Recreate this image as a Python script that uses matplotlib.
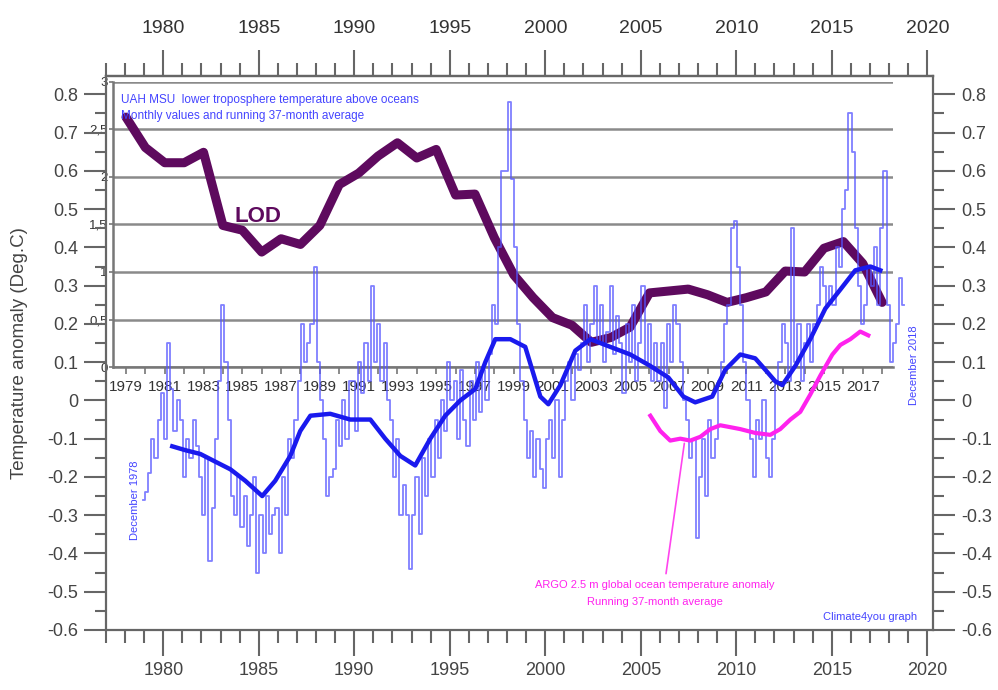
import numpy as np
import matplotlib
matplotlib.use('Agg')
import matplotlib.pyplot as plt
from matplotlib.ticker import MultipleLocator, FuncFormatter, FixedLocator

# UAH MSU ocean, values every 2 months from Dec 1978
uah_start = 1978.95
uah_step = 1 / 6
uah_values = [
    -0.26, -0.24, -0.19, -0.10, -0.15, -0.05,   # 1979
    0.02, -0.10, 0.15, 0.03, -0.08, 0.00,       # 1980
    -0.05, -0.20, -0.10, -0.15, -0.05, -0.12,   # 1981
    -0.20, -0.30, -0.15, -0.42, -0.28, -0.10,   # 1982
    0.05, 0.25, 0.10, -0.05, -0.25, -0.30,      # 1983
    -0.20, -0.33, -0.25, -0.38, -0.30, -0.20,   # 1984
    -0.45, -0.30, -0.40, -0.25, -0.35, -0.30,   # 1985
    -0.28, -0.40, -0.20, -0.30, -0.10, -0.15,   # 1986
    -0.05, 0.05, 0.20, 0.10, 0.15, 0.20,        # 1987
    0.35, 0.10, 0.00, -0.10, -0.25, -0.20,      # 1988
    -0.18, -0.05, -0.12, 0.00, -0.10, 0.05,     # 1989
    0.05, -0.08, 0.10, 0.02, 0.15, 0.05,        # 1990
    0.30, 0.10, 0.20, 0.05, 0.15, 0.00,         # 1991
    -0.05, -0.20, -0.10, -0.30, -0.22, -0.30,   # 1992
    -0.44, -0.30, -0.20, -0.35, -0.15, -0.25,   # 1993
    -0.10, -0.20, -0.05, -0.15, 0.00, -0.08,    # 1994
    0.10, 0.00, 0.05, -0.10, 0.08, -0.05,       # 1995
    -0.12, 0.05, -0.05, 0.10, -0.03, 0.08,      # 1996
    0.00, 0.12, 0.25, 0.20, 0.40, 0.60,         # 1997
    0.60, 0.78, 0.58, 0.40, 0.20, 0.05,         # 1998
    -0.05, -0.15, -0.08, -0.20, -0.10, -0.18,   # 1999
    -0.23, -0.10, -0.05, -0.15, 0.00, -0.20,    # 2000
    -0.05, 0.05, 0.10, 0.00, 0.12, 0.08,        # 2001
    0.15, 0.25, 0.10, 0.20, 0.30, 0.15,         # 2002
    0.25, 0.10, 0.18, 0.30, 0.12, 0.22,         # 2003
    0.15, 0.02, 0.20, 0.10, 0.25, 0.05,         # 2004
    0.15, 0.30, 0.10, 0.20, 0.05, 0.15,         # 2005
    0.05, 0.15, -0.02, 0.20, 0.10, 0.25,        # 2006
    0.20, 0.10, 0.00, -0.05, -0.15, -0.10,      # 2007
    -0.36, -0.20, -0.10, -0.25, -0.05, -0.15,   # 2008
    -0.10, 0.05, 0.10, 0.20, 0.25, 0.45,        # 2009
    0.47, 0.35, 0.25, 0.10, 0.00, -0.10,        # 2010
    -0.20, -0.05, -0.10, 0.00, -0.15, -0.20,    # 2011
    -0.10, 0.05, 0.10, 0.20, 0.15, 0.05,        # 2012
    0.45, 0.10, 0.20, 0.05, 0.15, 0.20,         # 2013
    0.10, 0.20, 0.25, 0.35, 0.30, 0.25,         # 2014
    0.30, 0.25, 0.40, 0.35, 0.50, 0.55,         # 2015
    0.75, 0.65, 0.45, 0.30, 0.20, 0.25,         # 2016
    0.35, 0.30, 0.40, 0.25, 0.45, 0.60,         # 2017
    0.25, 0.10, 0.15, 0.20, 0.32, 0.25,         # 2018
]

# running 37-month average (thick blue)
avg_years = [1980.47, 1981.15, 1981.94, 1982.72, 1983.51, 1984.29, 1985.18, 1985.86,
             1986.65, 1987.17, 1987.70, 1988.74, 1989.79, 1990.84, 1991.62, 1992.41,
             1993.19, 1993.98, 1994.76, 1995.55, 1996.34, 1996.86, 1997.38, 1998.17,
             1998.95, 1999.74, 2000.16, 2000.79, 2001.57, 2002.36, 2003.40, 2004.45,
             2005.50, 2006.44, 2007.23, 2007.85, 2008.74, 2009.42, 2010.21, 2010.99,
             2011.52, 2012.04, 2012.41, 2013.09, 2013.87, 2014.66, 2015.45, 2016.23,
             2017.02, 2017.54]
avg_values = [-0.12, -0.13, -0.14, -0.16, -0.18, -0.21, -0.25, -0.21,
              -0.145, -0.08, -0.04, -0.035, -0.05, -0.05, -0.10, -0.145,
              -0.17, -0.10, -0.04, 0.00, 0.03, 0.10, 0.16, 0.16,
              0.14, 0.01, -0.01, 0.04, 0.13, 0.16, 0.14, 0.12,
              0.09, 0.06, 0.01, -0.005, 0.01, 0.08, 0.12, 0.11,
              0.08, 0.05, 0.04, 0.09, 0.16, 0.24, 0.29, 0.34,
              0.35, 0.34]

# ARGO 2.5 m, running 37-month average (magenta)
argo_years = [2005.50, 2006.02, 2006.54, 2007.07, 2007.59, 2008.12, 2008.64, 2009.16,
              2009.69, 2010.21, 2010.99, 2011.78, 2012.30, 2012.83, 2013.35, 2013.87,
              2014.40, 2015.03, 2015.45, 2015.97, 2016.49, 2016.91]
argo_values = [-0.04, -0.08, -0.105, -0.10, -0.105, -0.095, -0.075, -0.065,
               -0.07, -0.075, -0.085, -0.09, -0.075, -0.05, -0.03, 0.015,
               0.065, 0.12, 0.145, 0.16, 0.18, 0.17]

# LOD (length of day), inset scale 0-3
lod_years = list(range(1979, 2019))
lod_values = [2.63, 2.31, 2.15, 2.15, 2.26, 1.49, 1.44, 1.21, 1.35, 1.29,
              1.49, 1.92, 2.04, 2.22, 2.36, 2.20, 2.29, 1.81, 1.82, 1.36,
              0.97, 0.73, 0.52, 0.44, 0.26, 0.31, 0.42, 0.78, 0.80, 0.82,
              0.76, 0.68, 0.73, 0.79, 1.01, 1.00, 1.25, 1.32, 1.09, 0.68]

year_ticks = list(range(1980, 2021, 5))

gray = '#666666'
txt = '#444444'
sans = ['Liberation Sans', 'DejaVu Sans']
small = ['Liberation Sans Narrow', 'Liberation Sans', 'DejaVu Sans']

fig = plt.figure(figsize=(9.98, 6.9), dpi=100)

# inset with the LOD curve (drawn first, sits below)
ax_lod = fig.add_axes([0.1132, 0.4681, 0.7816, 0.4131])
ax_lod.patch.set_alpha(0)
ax_lod.set_xlim(1978.33, 2018.56)
ax_lod.set_ylim(0, 3)
for s in ['top', 'right']:
    ax_lod.spines[s].set_visible(False)
for s in ['left', 'bottom']:
    ax_lod.spines[s].set_color('#777777')
    ax_lod.spines[s].set_linewidth(1.8)
ax_lod.yaxis.set_major_locator(MultipleLocator(0.5))
ax_lod.yaxis.set_major_formatter(FuncFormatter(lambda v, p: f'{v:g}'.replace('.', ',')))
ax_lod.xaxis.set_major_locator(FixedLocator(list(range(1979, 2018, 2))))
ax_lod.xaxis.set_minor_locator(MultipleLocator(1))
ax_lod.tick_params(axis='x', which='both', direction='out', length=5, width=1.2,
                   color='#777777', labelsize=11, labelcolor='#333333', pad=4)
ax_lod.tick_params(axis='y', direction='out', length=3, width=1.2, color='#777777',
                   labelsize=9.5, labelcolor='#333333', pad=1)
for lbl in ax_lod.get_xticklabels() + ax_lod.get_yticklabels():
    lbl.set_family(sans)
ax_lod.grid(axis='y', color='#8a8a8a', linewidth=1.8)
ax_lod.set_axisbelow(True)
ax_lod.plot(lod_years, lod_values, color='#5e0a5e', linewidth=6.5, solid_joinstyle='round',
            solid_capstyle='round', zorder=3)
ax_lod.text(1984.6, 1.53, 'LOD', color='#5e0a5e', fontsize=16, fontweight='bold',
            family=sans)

# main temperature axes
ax = fig.add_axes([0.1062, 0.0870, 0.8287, 0.8029])
ax.patch.set_alpha(0)
ax.set_xlim(1977.0, 2020.3)
ax.set_ylim(-0.6, 0.848)

uah_years = uah_start + uah_step * np.arange(len(uah_values))
ax.plot(uah_years, uah_values, color='#5555ff', alpha=0.75, linewidth=1.3,
        drawstyle='steps-mid')
ax.plot(avg_years, avg_values, color='#1a1aee', linewidth=3.2)
ax.plot(argo_years, argo_values, color='#ff22ee', linewidth=3.0)

for s in ax.spines.values():
    s.set_color(gray)
    s.set_linewidth(1.6)

ax.xaxis.set_major_locator(FixedLocator(year_ticks))
ax.xaxis.set_minor_locator(MultipleLocator(1))
ax.yaxis.set_major_locator(MultipleLocator(0.1))
ax.yaxis.set_minor_locator(MultipleLocator(0.05))
ax.yaxis.set_major_formatter(FuncFormatter(lambda v, p: '0' if abs(v) < 1e-9 else f'{v:.1f}'))
ax.tick_params(axis='x', which='major', direction='out', length=19, width=1.5, color=gray,
               labelsize=13, labelcolor=txt, pad=4)
ax.tick_params(axis='x', which='minor', direction='out', length=9.5, width=1.5, color=gray)
ax.tick_params(axis='y', which='major', direction='out', length=16, width=1.5, color=gray,
               right=True, labelright=True, labelsize=13, labelcolor=txt, pad=4)
ax.tick_params(axis='y', which='minor', direction='out', length=8, width=1.5, color=gray,
               right=True)
for lbl in ax.get_xticklabels() + ax.get_yticklabels():
    lbl.set_family(sans)

# top year axis, labels sit a bit further out
top = ax.secondary_xaxis('top')
top.xaxis.set_major_locator(FixedLocator(year_ticks))
top.xaxis.set_minor_locator(MultipleLocator(1))
top.spines['top'].set_color(gray)
top.spines['top'].set_linewidth(1.6)
top.tick_params(which='major', direction='out', length=19, width=1.5, color=gray,
                labelsize=14, labelcolor='#333333', pad=9)
top.tick_params(which='minor', direction='out', length=9.5, width=1.5, color=gray)
for lbl in top.get_xticklabels():
    lbl.set_family(small)

ax.set_ylabel('Temperature anomaly (Deg.C)', fontsize=13.5, color=txt,
              family=sans, labelpad=14)

# annotations
fig.text(121 / 998, 1 - 100 / 690, 'UAH MSU  lower troposphere temperature above oceans',
         color='#4444ff', fontsize=8.5, family=small, va='center')
fig.text(121 / 998, 1 - 116 / 690, 'Monthly values and running 37-month average',
         color='#4444ff', fontsize=8.5, family=small, va='center')
fig.text(135 / 998, 1 - 500 / 690, 'December 1978', rotation=90, color='#4444ff',
         fontsize=8, family=small, ha='center', va='center')
fig.text(914 / 998, 1 - 365 / 690, 'December 2018', rotation=90, color='#4444ff',
         fontsize=8, family=small, ha='center', va='center')
fig.text(870 / 998, 1 - 617 / 690, 'Climate4you graph', color='#4444ff',
         fontsize=8, family=small, ha='center', va='center')
ax.annotate('', xy=(2007.3, -0.105), xytext=(2006.3, -0.46),
            arrowprops=dict(arrowstyle='-', color='#ff44ee', lw=1.2))
fig.text(655 / 998, 1 - 585 / 690, 'ARGO 2.5 m global ocean temperature anomaly',
         color='#ff22ee', fontsize=8, family=small, ha='center', va='center')
fig.text(655 / 998, 1 - 602 / 690, 'Running 37-month average',
         color='#ff22ee', fontsize=8, family=small, ha='center', va='center')

fig.savefig('out.png', dpi=100)
